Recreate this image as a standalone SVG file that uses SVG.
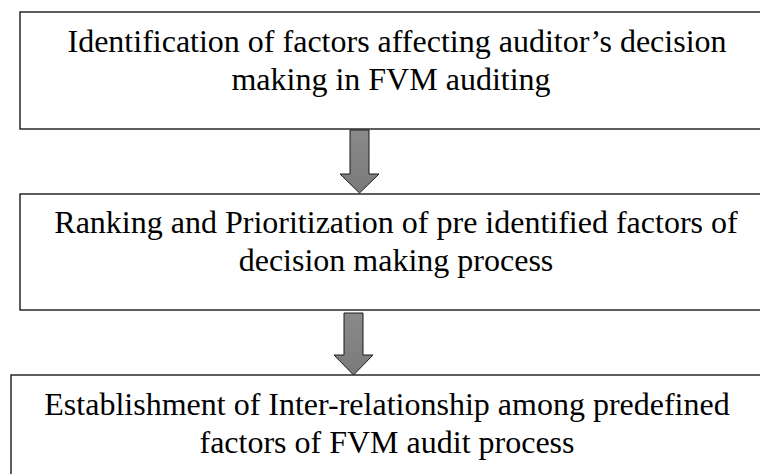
<svg xmlns="http://www.w3.org/2000/svg" width="760" height="474" viewBox="0 0 760 474">
<style>
.box{fill:#ffffff;stroke:#1a1a1a;stroke-width:1.4}
.t{font-size:32px;fill:#000;text-anchor:middle}
.arr{fill:url(#g);stroke:#1a1a1a;stroke-width:1}
</style>
<defs>
<linearGradient id="g" x1="0" y1="0" x2="0" y2="1">
<stop offset="0" stop-color="#8a8a8a"/>
<stop offset="1" stop-color="#7a7a7a"/>
</linearGradient>
</defs>
<rect width="760" height="474" fill="#ffffff"/>
<g id="node1" font-family="'Liberation Serif', 'Times New Roman', 'DejaVu Serif', serif">
<rect class="box" x="20" y="12" width="760" height="117"/>
<text class="t" x="397" y="52">Identification of factors affecting auditor’s decision</text>
<text class="t" x="391" y="90">making in FVM auditing</text>
</g>
<g id="node2" font-family="'Liberation Serif', 'Times New Roman', 'DejaVu Serif', serif">
<rect class="box" x="20" y="194" width="760" height="116"/>
<text class="t" x="396" y="233">Ranking and Prioritization of pre identified factors of</text>
<text class="t" x="396" y="271">decision making process</text>
</g>
<g id="node3" font-family="'Liberation Serif', 'Times New Roman', 'DejaVu Serif', serif">
<rect class="box" x="11" y="375" width="770" height="120"/>
<text class="t" x="387" y="415">Establishment of Inter-relationship among predefined</text>
<text class="t" x="387" y="453">factors of FVM audit process</text>
</g>
<g id="connectors">
<path class="arr" d="M350,130 H369 V174 H379 L359.5,193 L340,174 H350 Z"/>
<path class="arr" d="M344,313 H363 V355 H373 L353.5,375 L334,355 H344 Z"/>
</g>
</svg>
